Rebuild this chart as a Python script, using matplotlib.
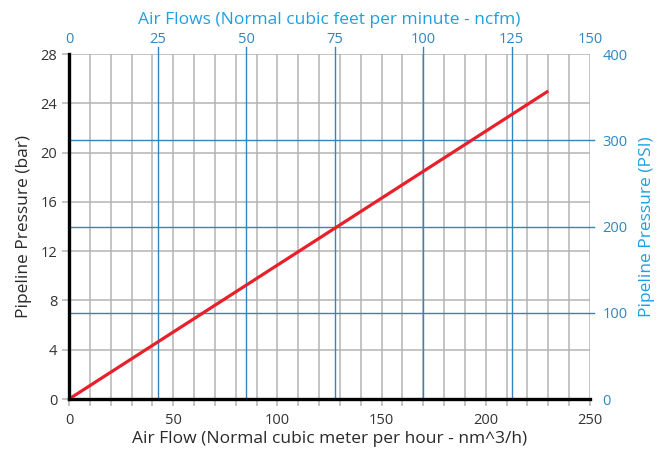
import matplotlib
matplotlib.use("Agg")
from matplotlib import pyplot as plt
from matplotlib.ticker import FixedLocator, FixedFormatter

# data
flow_m3h = [0, 230]
pressure_bar = [0, 25]

x_ticks = [0, 50, 100, 150, 200, 250]
y_ticks = [0, 4, 8, 12, 16, 20, 24, 28]
cfm_ticks = [0, 25, 50, 75, 100, 125]
cfm_labels = ["0", "25", "50", "75", "100", "125", "150"]
psi_ticks = [0, 100, 200, 300, 400]

M3H_PER_CFM = 1.699
PSI_PER_BAR = 400 / 28  # the chart maps 400 PSI onto 28 bar

BLUE = "#2f86c0"
LABEL_BLUE = "#1ea0e0"
GRID = "#b4b4b4"

plt.rcParams["font.family"] = ["Open Sans", "DejaVu Sans"]

fig = plt.figure(figsize=(6.57, 4.54), dpi=100)
ax = fig.add_axes([0.105, 0.121, 0.793, 0.760])

ax.set_xlim(0, 250)
ax.set_ylim(0, 28)

# grey grid
for v in range(0, 251, 10):
    ax.axvline(v, color=GRID, lw=1.1, zorder=1)
for v in y_ticks:
    ax.axhline(v, color=GRID, lw=1.1, zorder=1)

# blue lines for secondary units
x_top_max = 250 / M3H_PER_CFM
y_right_max = 28 * PSI_PER_BAR
for v in cfm_ticks[1:]:
    ax.axvline(v * M3H_PER_CFM, color=BLUE, lw=1.0, zorder=2,
               ymax=1.02, clip_on=False)
for v in psi_ticks[1:-1]:
    ax.axhline(v / PSI_PER_BAR, color=BLUE, lw=1.0, zorder=2,
               xmax=1.008, clip_on=False)

ax.plot(flow_m3h, pressure_bar, color="#e8202a", lw=2.3, zorder=4,
        solid_capstyle="butt")

for s in ["top", "right"]:
    ax.spines[s].set_visible(False)
for s in ["left", "bottom"]:
    ax.spines[s].set_linewidth(2.4)
    ax.spines[s].set_color("black")
    ax.spines[s].set_zorder(5)

ax.set_xticks(range(0, 251, 10), minor=True)
ax.set_xticks(x_ticks)
ax.set_yticks(y_ticks)
ax.tick_params(axis="both", which="both", color=GRID, width=1.1, length=5,
               labelsize=10.5, labelcolor="#333333")
ax.tick_params(axis="x", pad=5)

ax.set_xlabel("Air Flow (Normal cubic meter per hour - nm^3/h)",
              fontsize=12.5, color="#2a2a2a", labelpad=2)
ax.set_ylabel("Pipeline Pressure (bar)", fontsize=12.5, color="#2a2a2a",
              labelpad=6)

# top axis: ncfm
top = ax.twiny()
top.set_xlim(0, x_top_max)
top.xaxis.set_major_locator(FixedLocator(cfm_ticks + [x_top_max]))
top.xaxis.set_major_formatter(FixedFormatter(cfm_labels))
top.tick_params(axis="x", length=0, pad=5, labelsize=10.5, labelcolor=BLUE)
top.set_xlabel("Air Flows (Normal cubic feet per minute - ncfm)",
               fontsize=12.5, color=LABEL_BLUE, labelpad=6)
for s in top.spines.values():
    s.set_visible(False)

# right axis: PSI
right = ax.twinx()
right.set_ylim(0, y_right_max)
right.set_yticks(psi_ticks)
right.tick_params(axis="y", length=0, pad=9, labelsize=10.5, labelcolor=BLUE)
right.set_ylabel("Pipeline Pressure (PSI)", fontsize=12.5, color=LABEL_BLUE,
                 labelpad=8)
for s in right.spines.values():
    s.set_visible(False)

fig.savefig("out.png", dpi=100)
